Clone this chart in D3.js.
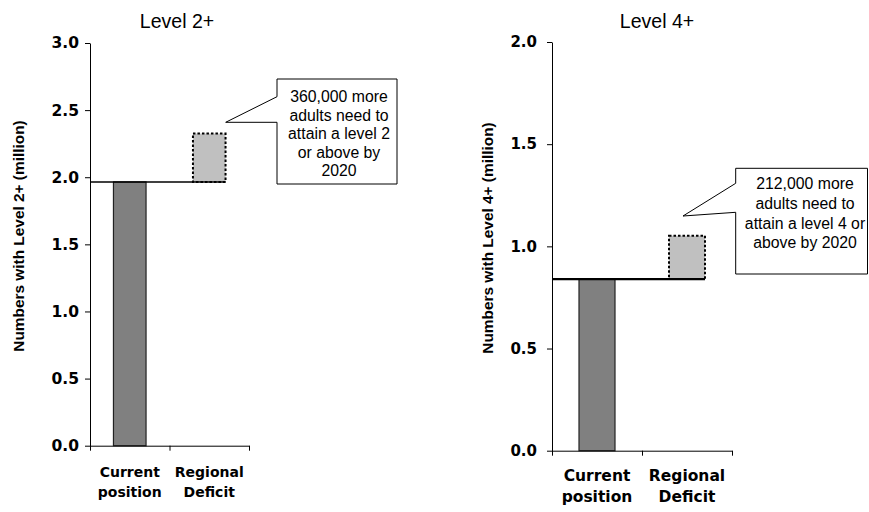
<!DOCTYPE html>
<html>
<head>
<meta charset="utf-8">
<script src="https://cdn.jsdelivr.net/npm/d3@7"></script>
<style>
  body { margin: 0; background: #fff; }
  svg { display: block; }
</style>
</head>
<body>
<svg id="chart" width="869" height="512"></svg>
<script>
// Category labels (two lines each)
const categories = [["Current", "position"], ["Regional", "Deficit"]];

// Level 2+ panel values (million adults)
const level2Current = 1.965;
const level2Deficit = 0.360;
const level2Ticks = [0, 0.5, 1.0, 1.5, 2.0, 2.5, 3.0];
const level2Note = ["360,000 more", "adults need to", "attain a level 2", "or above by", "2020"];

// Level 4+ panel values (million adults)
const level4Current = 0.840;
const level4Deficit = 0.212;
const level4Ticks = [0, 0.5, 1.0, 1.5, 2.0];
const level4Note = ["212,000 more", "adults need to", "attain a level 4 or", "above by 2020"];

const svg = d3.select("#chart");
svg.append("rect").attr("width", 869).attr("height", 512).attr("fill", "#fff");

function drawPanel(opt) {
  const g = svg.append("g");
  const y = d3.scaleLinear().domain([0, d3.max(opt.ticks)]).range([opt.y0, opt.y1]);
  const xPos = d3.scaleLinear().domain([0, categories.length]).range([opt.x0, opt.x1]);
  const xBand = d3.scaleBand().domain(d3.range(categories.length)).range([opt.x0, opt.x1]).padding(0);
  const bw = xBand.bandwidth() * opt.barFrac;
  const barX = i => xBand(i) + (xBand.bandwidth() - bw) / 2;

  // Title
  g.append("text")
    .attr("x", opt.titleX).attr("y", 28)
    .attr("text-anchor", "middle")
    .attr("font-family", "Liberation Sans, Arial, sans-serif")
    .attr("font-size", 19.5)
    .attr("fill", "#000")
    .text(opt.title);

  // Current position bar
  g.append("rect")
    .attr("x", barX(0)).attr("width", bw)
    .attr("y", y(opt.current)).attr("height", y(0) - y(opt.current))
    .attr("fill", "#808080").attr("stroke", "#222").attr("stroke-width", 1.2);

  // Regional deficit bar, stacked on the current level
  g.append("rect")
    .attr("x", barX(1)).attr("width", bw)
    .attr("y", y(opt.current + opt.deficit)).attr("height", y(opt.current) - y(opt.current + opt.deficit))
    .attr("fill", "#c0c0c0").attr("stroke", "#000").attr("stroke-width", 2)
    .attr("stroke-dasharray", "2.5,2");

  // Current level reference line
  g.append("line")
    .attr("x1", opt.x0).attr("x2", barX(1) + bw)
    .attr("y1", y(opt.current)).attr("y2", y(opt.current))
    .attr("stroke", "#000").attr("stroke-width", opt.lineW);

  // Y axis
  const yAxis = g.append("g")
    .attr("transform", `translate(${opt.x0},0)`)
    .call(d3.axisLeft(y).tickValues(opt.ticks).tickFormat(d3.format(".1f"))
      .tickSize(5).tickSizeOuter(0).tickPadding(opt.tickPad));
  yAxis.select(".domain").attr("stroke", "#000");
  yAxis.selectAll(".tick line").attr("stroke", "#000");
  yAxis.selectAll(".tick text")
    .attr("font-family", "DejaVu Sans, sans-serif")
    .attr("font-weight", "bold")
    .attr("font-size", opt.tickFont)
    .attr("fill", "#000");

  // X axis with ticks at category boundaries
  const xAxis = g.append("g")
    .attr("transform", `translate(0,${opt.y0})`)
    .call(d3.axisBottom(xPos).tickValues(d3.range(categories.length + 1))
      .tickFormat("").tickSize(5).tickSizeOuter(0));
  xAxis.select(".domain").attr("stroke", "#000");
  xAxis.selectAll(".tick line").attr("stroke", "#000");

  // Category labels
  categories.forEach((lines, i) => {
    const t = g.append("text")
      .attr("x", xBand(i) + xBand.bandwidth() / 2)
      .attr("y", opt.catY)
      .attr("text-anchor", "middle")
      .attr("font-family", "DejaVu Sans, sans-serif")
      .attr("font-weight", "bold")
      .attr("font-size", opt.catFont)
      .attr("fill", "#000");
    lines.forEach((s, k) => {
      t.append("tspan").attr("x", xBand(i) + xBand.bandwidth() / 2)
        .attr("dy", k === 0 ? 0 : opt.catGap).text(s);
    });
  });

  // Y axis title
  g.append("text")
    .attr("transform", `translate(${opt.ylabX},${opt.ylabY}) rotate(-90)`)
    .attr("text-anchor", "middle")
    .attr("font-family", "Liberation Sans, Arial, sans-serif")
    .attr("font-weight", "bold")
    .attr("font-size", 15.4)
    .attr("fill", "#000")
    .text(opt.ylab);

  // Callout box with pointer towards the deficit bar
  const b = opt.box;
  const p = d3.path();
  p.moveTo(b.l, b.t);
  p.lineTo(b.r, b.t);
  p.lineTo(b.r, b.b);
  p.lineTo(b.l, b.b);
  p.lineTo(b.l, b.p2);
  p.lineTo(b.tipX, b.tipY);
  p.lineTo(b.l, b.p1);
  p.closePath();
  g.append("path").attr("d", p.toString())
    .attr("fill", "#fff").attr("stroke", "#000").attr("stroke-width", 1);

  const note = g.append("text")
    .attr("x", b.textX).attr("y", b.textY)
    .attr("text-anchor", "middle")
    .attr("font-family", "Liberation Sans, Arial, sans-serif")
    .attr("font-size", 15.8)
    .attr("fill", "#000");
  opt.note.forEach((s, k) => {
    note.append("tspan").attr("x", b.textX).attr("dy", k === 0 ? 0 : b.gap).text(s);
  });
}

drawPanel({
  title: "Level 2+", titleX: 177,
  current: level2Current, deficit: level2Deficit, ticks: level2Ticks,
  x0: 90, x1: 249, y0: 445.7, y1: 43, barFrac: 0.41, lineW: 1.5,
  tickPad: 6, tickFont: 15.5, catFont: 14, catY: 477, catGap: 20,
  ylab: "Numbers with Level 2+ (million)", ylabX: 24, ylabY: 236,
  note: level2Note,
  box: { l: 277, r: 397, t: 79, b: 184, p1: 96.7, p2: 122.3, tipX: 225.7, tipY: 122.3,
         textX: 339, textY: 102, gap: 18.5 }
});

drawPanel({
  title: "Level 4+", titleX: 657,
  current: level4Current, deficit: level4Deficit, ticks: level4Ticks,
  x0: 552, x1: 732, y0: 450.7, y1: 42, barFrac: 0.40, lineW: 2.2,
  tickPad: 10, tickFont: 15, catFont: 15.5, catY: 480.5, catGap: 21,
  ylab: "Numbers with Level 4+ (million)", ylabX: 493, ylabY: 238,
  note: level4Note,
  box: { l: 735.7, r: 867.5, t: 168.3, b: 274, p1: 183.3, p2: 212.3, tipX: 683, tipY: 216,
         textX: 805, textY: 189, gap: 19.8 }
});
</script>
</body>
</html>
